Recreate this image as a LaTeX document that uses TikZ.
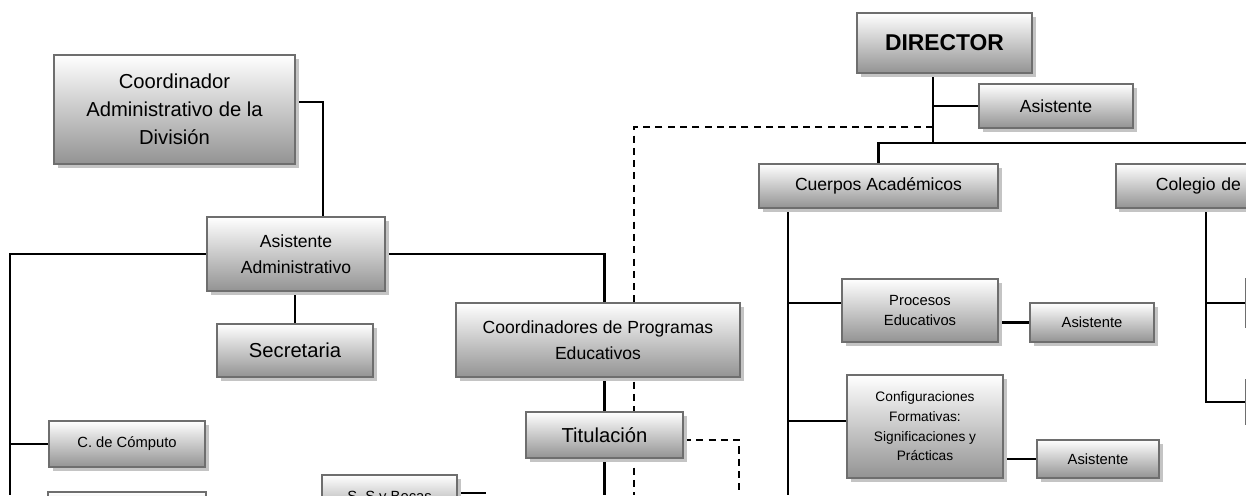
\documentclass[tikz,border=0pt]{standalone}
\usepackage{fontspec}
\setmainfont{Liberation Sans}
\usetikzlibrary{shadows,backgrounds}
\definecolor{ink}{HTML}{000000}
\definecolor{edge}{HTML}{6E6E6E}
\definecolor{shade}{HTML}{C4C4C4}
\definecolor{boxtop}{HTML}{FFFFFF}
\definecolor{boxbot}{HTML}{939393}
\newcommand{\txthead}{\fontsize{13}{15}\selectfont\bfseries}
\newcommand{\txtbig}{\fontsize{11.5}{16}\selectfont}
\newcommand{\txtmid}{\fontsize{10}{15}\selectfont}
\newcommand{\txtsmall}{\fontsize{8.4}{11.3}\selectfont}
\newcommand{\txttiny}{\fontsize{7.8}{11.2}\selectfont}
\tikzset{
 every node/.append style={text=ink,align=center},
 unit/.style={draw=edge,line width=1.1pt,top color=boxtop,bottom color=boxbot,inner sep=2pt,
  general shadow={fill=shade,shadow xshift=.07cm,shadow yshift=-.07cm}},
 link/.style={draw=ink,line width=1.2pt},
 heavy/.style={link,line width=1.7pt},
 dashlink/.style={draw=ink,line width=1.2pt,dash pattern=on 4pt off 3pt},
}

\begin{document}
\begin{tikzpicture}

\useasboundingbox (0,0) rectangle (24.92,-9.90);
\node[unit,minimum width=4.82cm,minimum height=2.18cm,font=\txtbig] (coordAdm) at (3.49,-2.19) {Coordinador\\Administrativo de la\\División};
\node[unit,minimum width=3.56cm,minimum height=1.48cm,font=\txtmid] (asisAdm) at (5.92,-5.08) {Asistente\\Administrativo};
\node[unit,minimum width=3.12cm,minimum height=1.06cm,font=\txtbig] (secre) at (5.90,-7.01) {Secretaria};
\node[unit,minimum width=3.12cm,minimum height=0.92cm,font=\txtsmall] (computo) at (2.54,-8.88) {C. de Cómputo};
\node[unit,minimum width=3.16cm,minimum height=0.92cm] (lowbox) at (2.54,-10.30) {};
\node[unit,minimum width=2.70cm,minimum height=0.92cm,font=\txtsmall] (becas) at (7.79,-9.96) {S. S y Becas};
\node[unit,minimum width=5.68cm,minimum height=1.48cm,font=\txtmid] (coordProg) at (11.96,-6.80) {Coordinadores de Programas\\Educativos};
\node[unit,minimum width=3.14cm,minimum height=0.92cm,font=\txtbig] (titul) at (12.09,-8.70) {Titulación};
\node[unit,minimum width=3.50cm,minimum height=1.20cm,font=\txthead] (director) at (18.89,-0.86) {DIRECTOR};
\node[unit,minimum width=3.08cm,minimum height=0.88cm,font=\txtmid] (asisDir) at (21.12,-2.12) {Asistente};
\node[unit,minimum width=4.78cm,minimum height=0.88cm,font=\txtmid] (cuerpos) at (17.57,-3.72) {Cuerpos Académicos};
\node[unit,anchor=west,text width=3.98cm,inner xsep=0.8cm,minimum height=0.88cm,align=left,font=\txtmid] (colegio) at (22.30,-3.72) {Colegio de};
\node[unit,minimum width=3.12cm,minimum height=1.26cm,font=\txtsmall] (procesos) at (18.40,-6.21) {Procesos\\Educativos};
\node[unit,minimum width=2.48cm,minimum height=0.78cm,font=\txtsmall] (asisProc) at (21.84,-6.45) {Asistente};
\node[unit,minimum width=3.12cm,minimum height=2.06cm,font=\txttiny] (config) at (18.50,-8.53) {Configuraciones\\Formativas:\\Significaciones y\\Prácticas};
\node[unit,minimum width=2.44cm,minimum height=0.76cm,font=\txtsmall] (asisConf) at (21.96,-9.18) {Asistente};
\node[unit,anchor=west,minimum width=3cm,minimum height=0.96cm] (colA) at (24.90,-6.06) {};
\node[unit,anchor=west,minimum width=3cm,minimum height=0.90cm] (colB) at (24.90,-8.04) {};

\coordinate (lbot) at (0.20,-9.90);
\coordinate (tbot) at (12.09,-9.90);
\coordinate (tdash) at (14.78,-9.90);
\coordinate (dtop) at (12.68,-2.54);
\coordinate (dbot) at (12.68,-9.90);
\coordinate (becasEnd) at (9.72,-9.86);
\coordinate (hub) at (18.66,-2.86);
\coordinate (barEnd) at (25.20,-2.86);
\coordinate (cTrunk) at (15.76,-9.90);
\coordinate (colTrunk) at (24.12,-4.16);

\begin{scope}[on background layer]
\draw[link] ([yshift=.15cm]coordAdm.east) -| ([xshift=.54cm]asisAdm.north);
\draw[heavy] (asisAdm.west) -| (lbot);
\draw[link] (computo.west) -- (computo.west -| lbot);
\draw[heavy] (secre.north |- asisAdm.south) -- (secre.north);
\draw[link] (asisAdm.east) -| (titul.north |- coordProg.north);
\draw[link] (titul.north |- coordProg.south) -- (titul.north);
\draw[link] (titul.south) -- (tbot);
\draw[link] (becasEnd -| becas.east) -- (becasEnd);
\draw[dashlink] (hub |- dtop) -- (dtop) -- (dbot);
\draw[dashlink] ([yshift=-.1cm]titul.east) -| (tdash);
\draw[link] (hub |- director.south) -- (hub);
\draw[link] (asisDir.west) -- (asisDir.west -| hub);
\draw[link] (barEnd) -| (cuerpos.north);
\draw[link] (cuerpos.south -| cTrunk) -- (cTrunk);
\draw[link] ([yshift=.15cm]procesos.west) -- ([yshift=.15cm]procesos.west -| cTrunk);
\draw[link] ([yshift=.11cm]config.west) -- ([yshift=.11cm]config.west -| cTrunk);
\draw[heavy] (asisProc.west -| procesos.east) -- (asisProc.west);
\draw[link] (asisConf.west -| config.east) -- (asisConf.west);
\draw[link] (colegio.south -| colTrunk) -- (colTrunk |- colB.west) -- (colB.west);
\draw[link] (colTrunk |- colA.west) -- (colA.west);
\end{scope}

\end{tikzpicture}
\end{document}
